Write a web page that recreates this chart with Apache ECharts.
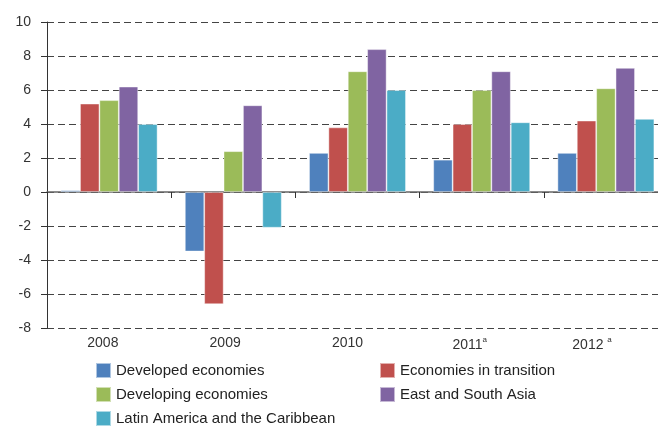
<!DOCTYPE html>
<html>
<head>
<meta charset="utf-8">
<script src="https://cdn.jsdelivr.net/npm/echarts@6/dist/echarts.min.js"></script>
<style>
  html, body { margin: 0; padding: 0; background: #fff; overflow: hidden; }
  /* the plot runs slightly past the right edge of the window */
  #chart { width: 680px; height: 426px; }
</style>
</head>
<body>
<div id="chart"></div>
<script>
// Categories (years); the last two are estimates, marked with a superscript "a"
const years = ['2008', '2009', '2010', '2011{sup|a}', '2012 {sup|a}'];

// Growth rates, per cent
const developedEconomies    = [0.1, -3.5, 2.3, 1.9, 2.3];
const economiesInTransition = [5.2, -6.6, 3.8, 4.0, 4.2];
const developingEconomies   = [5.4, 2.4, 7.1, 6.0, 6.1];
const eastSouthAsia         = [6.2, 5.1, 8.4, 7.1, 7.3];
const latinAmerica          = [4.0, -2.1, 6.0, 4.1, 4.3];

const seriesNames = [
  'Developed economies',
  'Economies in transition',
  'Developing economies',
  'East and South Asia',
  'Latin America and the Caribbean'
];
const seriesValues = [developedEconomies, economiesInTransition, developingEconomies, eastSouthAsia, latinAmerica];
const colors = ['#4F81BD', '#C0504D', '#9BBB59', '#8064A2', '#4BACC6'];

const yTicks = { min: -8, max: 10, interval: 2 };

const chart = echarts.init(document.getElementById('chart'), null, { renderer: 'canvas' });

const FONT = 'Liberation Sans, Arial, sans-serif';

// Legend: two columns, three rows; one legend entry per slot
const legendSlots = [
  { left: 95,  top: 362 },  // Developed economies
  { left: 379, top: 362 },  // Economies in transition
  { left: 95,  top: 386 },  // Developing economies
  { left: 379, top: 386 },  // East and South Asia
  { left: 95,  top: 410 }   // Latin America and the Caribbean
];

chart.setOption({
  animation: false,
  backgroundColor: '#ffffff',
  color: colors,
  grid: [
    // plotting area
    { left: 47, top: 22, width: 621, height: 306, containLabel: false },
    // band for the year labels under the plot
    { left: 41.7, top: 22, width: 611.5, height: 306, containLabel: false }
  ],
  legend: seriesNames.map((name, i) => ({
    data: [name],
    orient: 'horizontal',
    left: legendSlots[i].left,
    top: legendSlots[i].top,
    padding: 0,
    itemWidth: 15, itemHeight: 15,
    icon: 'rect',
    textStyle: { fontFamily: FONT, fontSize: 15, lineHeight: 15, color: '#222' }
  })),
  xAxis: [
    {
      // zero line with boundary ticks
      type: 'category',
      gridIndex: 0,
      data: years,
      axisLine: { onZero: true, lineStyle: { color: '#666', width: 1.5 } },
      axisTick: { show: true, alignWithLabel: false, length: 6, lineStyle: { color: '#333', width: 1 } },
      axisLabel: { show: false },
      splitLine: { show: false }
    },
    {
      // year labels along the bottom of the plot
      type: 'category',
      gridIndex: 1,
      data: years,
      position: 'bottom',
      axisLine: { show: false, onZero: false },
      axisTick: { show: false },
      axisLabel: {
        margin: 8,
        fontFamily: FONT,
        fontSize: 14,
        color: '#333',
        rich: {
          sup: { fontFamily: FONT, fontSize: 8, color: '#333', padding: [0, 0, 10, 0] }
        }
      },
      splitLine: { show: false }
    }
  ],
  yAxis: [
    {
      type: 'value',
      gridIndex: 0,
      min: yTicks.min,
      max: yTicks.max,
      interval: yTicks.interval,
      axisLine: { show: true, lineStyle: { color: '#333', width: 1 } },
      axisTick: { show: true, length: 6, lineStyle: { color: '#333' } },
      axisLabel: { margin: 16, fontFamily: FONT, fontSize: 14, color: '#333' },
      splitLine: { show: true, lineStyle: { color: '#444', width: 1, type: [7, 4] } }
    },
    {
      type: 'value',
      gridIndex: 1,
      min: yTicks.min,
      max: yTicks.max,
      interval: yTicks.interval,
      show: false,
      splitLine: { show: false }
    }
  ],
  series: seriesNames.map((name, i) => ({
    name,
    type: 'bar',
    xAxisIndex: 0,
    yAxisIndex: 0,
    data: seriesValues[i],
    barGap: '0%',
    barCategoryGap: '22%',
    itemStyle: { color: colors[i], borderColor: 'rgba(255,255,255,0.55)', borderWidth: 0.8 }
  }))
});
</script>
</body>
</html>
